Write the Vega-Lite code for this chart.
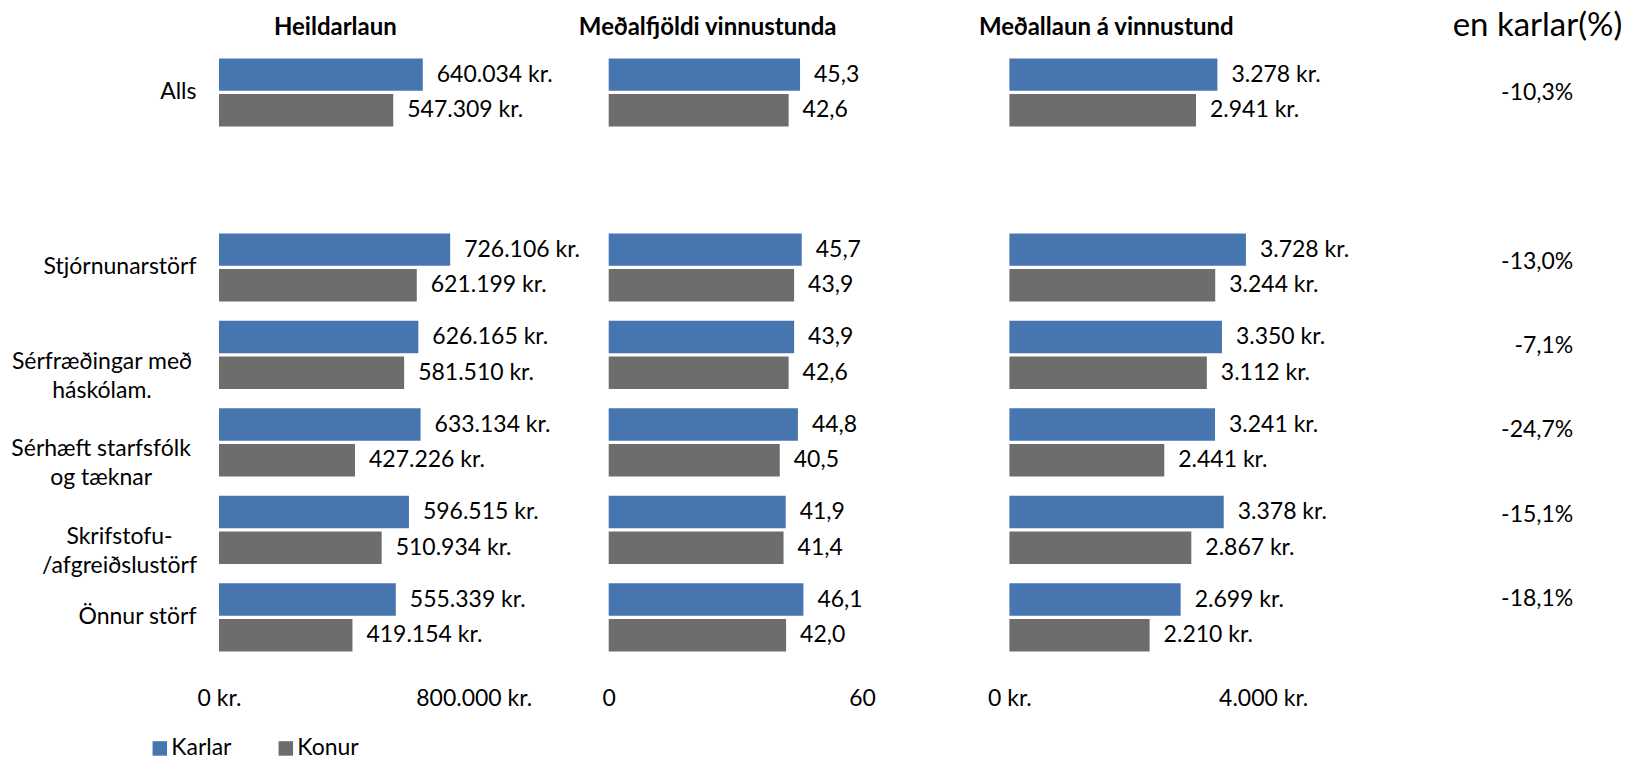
{
  "$schema": "https://vega.github.io/schema/vega-lite/v6.json",
  "padding": {"left": 10, "top": 9.7, "right": 10, "bottom": 0},
  "background": "white",
  "config": {
    "locale": {"number": {"decimal": ",", "thousands": ".", "grouping": [3], "currency": ["", " kr."], "minus": "-", "percent": "%"}},
    "view": {"stroke": null},
    "font": "Lato",
    "axis": {"labelFont": "Lato", "labelFontSize": 23, "labelColor": "#000000", "grid": false, "domain": false, "ticks": false, "tickSize": 0, "title": null, "labelLimit": 0},
    "title": {"font": "Lato", "fontSize": 24, "fontWeight": "bold", "color": "#000000", "baseline": "alphabetic", "offset": 9, "frame": "group"}
  },
  "datasets": {
    "lonn": [
      {"flokkur": "Alls", "kyn": "Karlar", "heildarlaun": 640034, "stundir": 45.3, "timalaun": 3278},
      {"flokkur": "Alls", "kyn": "Konur", "heildarlaun": 547309, "stundir": 42.6, "timalaun": 2941},
      {"flokkur": "Stjórnunarstörf", "kyn": "Karlar", "heildarlaun": 726106, "stundir": 45.7, "timalaun": 3728},
      {"flokkur": "Stjórnunarstörf", "kyn": "Konur", "heildarlaun": 621199, "stundir": 43.9, "timalaun": 3244},
      {"flokkur": "Sérfræðingar með háskólam.", "kyn": "Karlar", "heildarlaun": 626165, "stundir": 43.9, "timalaun": 3350},
      {"flokkur": "Sérfræðingar með háskólam.", "kyn": "Konur", "heildarlaun": 581510, "stundir": 42.6, "timalaun": 3112},
      {"flokkur": "Sérhæft starfsfólk og tæknar", "kyn": "Karlar", "heildarlaun": 633134, "stundir": 44.8, "timalaun": 3241},
      {"flokkur": "Sérhæft starfsfólk og tæknar", "kyn": "Konur", "heildarlaun": 427226, "stundir": 40.5, "timalaun": 2441},
      {"flokkur": "Skrifstofu-/afgreiðslustörf", "kyn": "Karlar", "heildarlaun": 596515, "stundir": 41.9, "timalaun": 3378},
      {"flokkur": "Skrifstofu-/afgreiðslustörf", "kyn": "Konur", "heildarlaun": 510934, "stundir": 41.4, "timalaun": 2867},
      {"flokkur": "Önnur störf", "kyn": "Karlar", "heildarlaun": 555339, "stundir": 46.1, "timalaun": 2699},
      {"flokkur": "Önnur störf", "kyn": "Konur", "heildarlaun": 419154, "stundir": 42.0, "timalaun": 2210}
    ],
    "munur": [
      {"flokkur": "Alls", "munur": -0.103},
      {"flokkur": "Stjórnunarstörf", "munur": -0.130},
      {"flokkur": "Sérfræðingar með háskólam.", "munur": -0.071},
      {"flokkur": "Sérhæft starfsfólk og tæknar", "munur": -0.247},
      {"flokkur": "Skrifstofu-/afgreiðslustörf", "munur": -0.151},
      {"flokkur": "Önnur störf", "munur": -0.181}
    ]
  },
  "spacing": 134.7,
  "bounds": "flush",
  "resolve": {"scale": {"y": "independent", "x": "independent"}},
  "hconcat": [
    {
      "width": 254.7,
      "height": 612.4,
      "title": {"text": "Heildarlaun", "dx": -11},
      "data": {"name": "lonn"},
      "encoding": {
        "y": {
          "field": "flokkur", "type": "nominal",
          "scale": {"type": "band", "domain": ["Alls", " ", "Stjórnunarstörf", "Sérfræðingar með háskólam.", "Sérhæft starfsfólk og tæknar", "Skrifstofu-/afgreiðslustörf", "Önnur störf"], "paddingInner": 0.222, "paddingOuter": 0.111},
          "axis": {
            "labelLineHeight": 29,
            "labelExpr": "datum.value == 'Sérfræðingar með háskólam.' ? ['Sérfræðingar með', 'háskólam.'] : datum.value == 'Sérhæft starfsfólk og tæknar' ? ['Sérhæft starfsfólk', 'og tæknar'] : datum.value == 'Skrifstofu-/afgreiðslustörf' ? ['Skrifstofu-', '/afgreiðslustörf'] : datum.label",
            "labelAlign": {"condition": {"test": "indexof(['Sérfræðingar með háskólam.', 'Sérhæft starfsfólk og tæknar', 'Skrifstofu-/afgreiðslustörf'], datum.value) >= 0", "value": "center"}, "value": "right"},
            "labelPadding": {"condition": [
              {"test": "datum.value == 'Sérfræðingar með háskólam.'", "value": 117.5},
              {"test": "datum.value == 'Sérhæft starfsfólk og tæknar'", "value": 118.4},
              {"test": "datum.value == 'Skrifstofu-/afgreiðslustörf'", "value": 100}
            ], "value": 23},
            "labelOffset": {"condition": {"test": "indexof(['Sérfræðingar með háskólam.', 'Sérhæft starfsfólk og tæknar', 'Skrifstofu-/afgreiðslustörf'], datum.value) >= 0", "value": 7}, "value": 0}
          }
        },
        "yOffset": {"field": "kyn", "type": "nominal", "scale": {"domain": ["Karlar", "Konur"], "paddingInner": 0.09}},
        "x": {"field": "heildarlaun", "type": "quantitative", "scale": {"domain": [0, 800000]}, "axis": {"values": [0, 800000], "format": "$,.0f", "labelPadding": 26, "labelFlush": false}}
      },
      "layer": [
        {
          "mark": {"type": "bar"},
          "encoding": {
            "color": {"field": "kyn", "type": "nominal", "scale": {"domain": ["Karlar", "Konur"], "range": ["#4675B0", "#6D6D6D"]},
              "legend": {"orient": "none", "legendX": -70.7, "legendY": 688, "direction": "horizontal", "title": null, "symbolType": "square", "symbolSize": 210, "symbolStrokeWidth": 0, "labelFont": "Lato", "labelFontSize": 23, "labelColor": "#000000", "labelOffset": 0, "columnPadding": 42, "padding": 0}}
          }
        },
        {
          "mark": {"type": "text", "align": "left", "baseline": "middle", "dx": 14, "fontSize": 23, "font": "Lato", "color": "#000000"},
          "encoding": {"text": {"field": "heildarlaun", "type": "quantitative", "format": "$,.0f"}}
        }
      ]
    },
    {
      "width": 266,
      "height": 612.4,
      "title": {"text": "Meðalfjöldi vinnustunda", "dx": -34},
      "data": {"name": "lonn"},
      "encoding": {
        "y": {"field": "flokkur", "type": "nominal",
          "scale": {"type": "band", "domain": ["Alls", " ", "Stjórnunarstörf", "Sérfræðingar með háskólam.", "Sérhæft starfsfólk og tæknar", "Skrifstofu-/afgreiðslustörf", "Önnur störf"], "paddingInner": 0.222, "paddingOuter": 0.111},
          "axis": null},
        "yOffset": {"field": "kyn", "type": "nominal", "scale": {"domain": ["Karlar", "Konur"], "paddingInner": 0.09}},
        "x": {"field": "stundir", "type": "quantitative", "scale": {"domain": [0, 62.98]}, "axis": {"values": [0, 60], "format": "d", "labelPadding": 26, "labelFlush": false}}
      },
      "layer": [
        {"mark": {"type": "bar"}, "encoding": {"color": {"field": "kyn", "type": "nominal", "scale": {"domain": ["Karlar", "Konur"], "range": ["#4675B0", "#6D6D6D"]}, "legend": null}}},
        {"mark": {"type": "text", "align": "left", "baseline": "middle", "dx": 14, "fontSize": 23, "font": "Lato", "color": "#000000"},
          "encoding": {"text": {"field": "stundir", "type": "quantitative", "format": ".1f"}}}
      ]
    },
    {
      "width": 253.8,
      "height": 612.4,
      "title": {"text": "Meðallaun á vinnustund", "dx": -30},
      "data": {"name": "lonn"},
      "encoding": {
        "y": {"field": "flokkur", "type": "nominal",
          "scale": {"type": "band", "domain": ["Alls", " ", "Stjórnunarstörf", "Sérfræðingar með háskólam.", "Sérhæft starfsfólk og tæknar", "Skrifstofu-/afgreiðslustörf", "Önnur störf"], "paddingInner": 0.222, "paddingOuter": 0.111},
          "axis": null},
        "yOffset": {"field": "kyn", "type": "nominal", "scale": {"domain": ["Karlar", "Konur"], "paddingInner": 0.09}},
        "x": {"field": "timalaun", "type": "quantitative", "scale": {"domain": [0, 4000]}, "axis": {"values": [0, 4000], "format": "$,.0f", "labelPadding": 26, "labelFlush": false}}
      },
      "layer": [
        {"mark": {"type": "bar"}, "encoding": {"color": {"field": "kyn", "type": "nominal", "scale": {"domain": ["Karlar", "Konur"], "range": ["#4675B0", "#6D6D6D"]}, "legend": null}}},
        {"mark": {"type": "text", "align": "left", "baseline": "middle", "dx": 14, "fontSize": 23, "font": "Lato", "color": "#000000"},
          "encoding": {"text": {"field": "timalaun", "type": "quantitative", "format": "$,.0f"}}}
      ]
    },
    {
      "width": 175.2,
      "height": 612.4,
      "title": {"text": "en karlar(%)", "anchor": "end", "dx": 49, "fontSize": 33, "fontWeight": "normal", "offset": 6},
      "data": {"name": "munur"},
      "mark": {"type": "text", "align": "right", "baseline": "middle", "fontSize": 23, "font": "Lato", "color": "#000000"},
      "encoding": {
        "y": {"field": "flokkur", "type": "nominal",
          "scale": {"type": "band", "domain": ["Alls", " ", "Stjórnunarstörf", "Sérfræðingar með háskólam.", "Sérhæft starfsfólk og tæknar", "Skrifstofu-/afgreiðslustörf", "Önnur störf"], "paddingInner": 0, "paddingOuter": 0.1336, "align": 0.107},
          "axis": null},
        "x": {"datum": 1, "type": "quantitative", "scale": {"domain": [0, 1]}, "axis": null},
        "text": {"field": "munur", "type": "quantitative", "format": ".1%"}
      }
    }
  ]
}
